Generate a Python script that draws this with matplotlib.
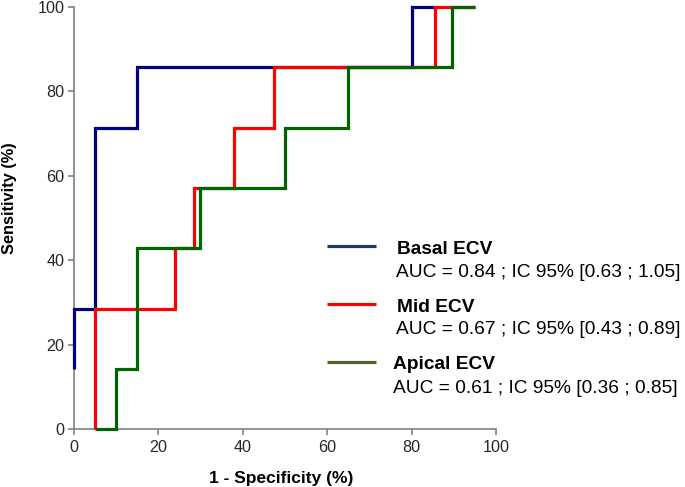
import matplotlib
matplotlib.use("Agg")
import matplotlib.pyplot as plt
from matplotlib.lines import Line2D

plt.rcParams['font.family'] = ['Liberation Sans', 'DejaVu Sans']

# ROC curves (1 - specificity %, sensitivity %)
basal_x = [0, 0, 5, 5, 15, 15, 80, 80, 85.5]
basal_y = [14.29, 28.57, 28.57, 71.43, 71.43, 85.71, 85.71, 100, 100]

mid_x = [5, 5, 24, 24, 28.5, 28.5, 38, 38, 47.5, 47.5, 85.5, 85.5, 95]
mid_y = [0, 28.57, 28.57, 42.86, 42.86, 57.14, 57.14, 71.43, 71.43, 85.71, 85.71, 100, 100]

apical_x = [5, 10, 10, 15, 15, 30, 30, 50, 50, 65, 65, 89.5, 89.5, 95]
apical_y = [0, 0, 14.29, 14.29, 42.86, 42.86, 57.14, 57.14, 71.43, 71.43, 85.71, 85.71, 100, 100]

names = ["Basal ECV", "Mid ECV", "Apical ECV"]
stats = ["AUC = 0.84 ; IC 95% [0.63 ; 1.05]",
         "AUC = 0.67 ; IC 95% [0.43 ; 0.89]",
         "AUC = 0.61 ; IC 95% [0.36 ; 0.85]"]
line_colors = ["#000080", "#ff0000", "#006400"]
legend_colors = ["#1f3864", "#ff0000", "#4f6228"]

W, H = 685, 487
fig = plt.figure(figsize=(W / 100, H / 100), dpi=100)
ax = fig.add_axes([73.5 / W, (H - 429.3) / H, 422.5 / W, 422.5 / H])

for xs, ys, c in zip([basal_x, mid_x, apical_x], [basal_y, mid_y, apical_y], line_colors):
    ax.plot(xs, ys, color=c, lw=2.3, solid_joinstyle='miter',
            solid_capstyle='butt', clip_on=False, zorder=3)

ax.set_xlim(0, 100)
ax.set_ylim(0, 100)
ax.set_xticks(range(0, 101, 20))
ax.set_yticks(range(0, 101, 20))
for s in ['top', 'right']:
    ax.spines[s].set_visible(False)
for s in ['left', 'bottom']:
    ax.spines[s].set_color('#808080')
    ax.spines[s].set_linewidth(1.2)
ax.tick_params(colors='#808080', width=1.2, length=4.5, labelsize=11.6,
               labelcolor='#262626')
ax.tick_params(axis='x', pad=3)
ax.tick_params(axis='y', pad=2)

# axis titles placed in figure pixels
fig.text(281 / W, 1 - 478 / H, "1 - Specificity (%)", fontsize=12.5,
         fontweight='bold', ha='center', va='center')
fig.text(10 / W, 1 - 198 / H, "Sensitivity (%)", fontsize=11.8, fontweight='bold',
         ha='center', va='center', rotation=90)

# legend drawn by hand
handle_y = [245.7, 304, 362.3]
name_pos = [(397, 254), (397, 311.7), (393, 369)]
stat_pos = [(396, 276.7), (396, 334), (392.7, 393.3)]
for i in range(3):
    fig.add_artist(Line2D([326.7 / W, 375.7 / W], [1 - handle_y[i] / H] * 2,
                          color=legend_colors[i], lw=2.3, solid_capstyle='butt'))
    fig.text(name_pos[i][0] / W, 1 - name_pos[i][1] / H, names[i], fontsize=13.8,
             fontweight='bold', va='baseline', ha='left')
    fig.text(stat_pos[i][0] / W, 1 - stat_pos[i][1] / H, stats[i], fontsize=13.8,
             va='baseline', ha='left')

fig.savefig("out.png", dpi=100)
